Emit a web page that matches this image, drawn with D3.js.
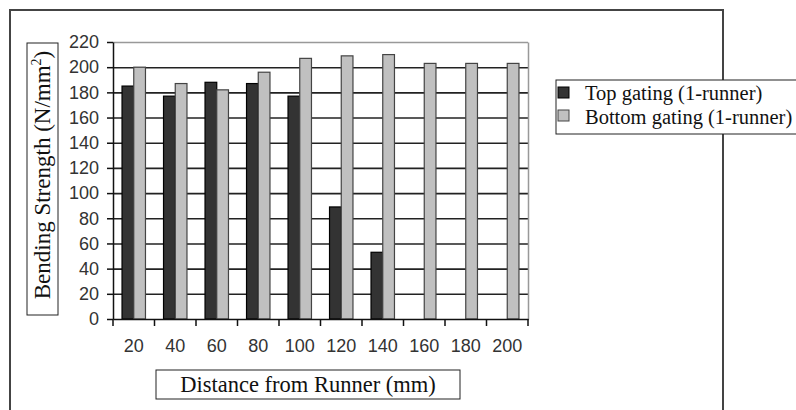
<!DOCTYPE html>
<html>
  <head>
    <meta charset="utf-8">
    <title>Bending strength</title>
    <script src="https://d3js.org/d3.v7.min.js"></script>
  </head>
  <body style="margin:0">
    <script>
      // data
      const distances = ["20", "40", "60", "80", "100", "120", "140", "160", "180", "200"];
      const seriesNames = ["Top gating (1-runner)", "Bottom gating (1-runner)"];
      const topGating = [185, 177, 188, 187, 177, 89, 53, null, null, null];
      const bottomGating = [200, 187, 182, 196, 207, 209, 210, 203, 203, 203];
      const yTicks = [0, 20, 40, 60, 80, 100, 120, 140, 160, 180, 200, 220];
      const fills = ["#333333", "#c0c0c0"];
      const strokes = ["#000000", "#444444"];

      const plot = { left: 113, right: 528, top: 42, bottom: 319 };
      const serif = "Liberation Serif";
      const sans = "Liberation Sans";

      const svg = d3.select("body").append("svg")
        .attr("width", 796)
        .attr("height", 410);

      // outer chart frame
      svg.append("rect")
        .attr("x", 10).attr("y", 10)
        .attr("width", 713).attr("height", 420)
        .attr("fill", "none")
        .attr("stroke", "#444")
        .attr("stroke-width", 2);

      const x = d3.scaleBand()
        .domain(distances)
        .range([plot.left, plot.right]);
      const xInner = d3.scaleBand()
        .domain([0, 1])
        .range([0, x.bandwidth()])
        .paddingOuter(0.77);
      const y = d3.scaleLinear()
        .domain([0, 220])
        .range([plot.bottom, plot.top]);

      // gridlines via an axis with ticks across the plot
      const grid = svg.append("g")
        .attr("transform", "translate(" + plot.left + ",0)")
        .call(d3.axisLeft(y)
          .tickValues(yTicks.filter(d => d > 0))
          .tickSize(-(plot.right - plot.left))
          .tickFormat(""));
      grid.select(".domain").remove();
      grid.selectAll(".tick line")
        .attr("stroke", d => d === 220 ? "#999" : "#222")
        .attr("stroke-width", 1.6);

      // right border of the plot area
      svg.append("g")
        .attr("transform", "translate(" + plot.right + ",0)")
        .call(d3.axisRight(y).tickValues([]).tickSizeOuter(0))
        .select(".domain")
          .attr("stroke", "#999")
          .attr("stroke-width", 1.5);

      // bars
      [topGating, bottomGating].forEach(function(vals, i) {
        svg.selectAll(".bar" + i)
          .data(distances.map((d, j) => ({ d: d, v: vals[j] })).filter(e => e.v != null))
          .join("rect")
            .attr("class", "bar" + i)
            .attr("x", e => x(e.d) + xInner(i))
            .attr("y", e => y(e.v))
            .attr("width", xInner.bandwidth())
            .attr("height", e => plot.bottom - y(e.v))
            .attr("fill", fills[i])
            .attr("stroke", strokes[i])
            .attr("stroke-width", 1.2);
      });

      // axes
      const yAxis = svg.append("g")
        .attr("transform", "translate(" + plot.left + ",0)")
        .call(d3.axisLeft(y).tickValues(yTicks).tickSize(6).tickPadding(8).tickSizeOuter(0));
      const xAxis = svg.append("g")
        .attr("transform", "translate(0," + plot.bottom + ")")
        .call(d3.axisBottom(x).tickSize(0).tickPadding(20));
      [yAxis, xAxis].forEach(function(a) {
        a.select(".domain").attr("stroke", "#111").attr("stroke-width", 1.5);
        a.selectAll(".tick line").attr("stroke", "#111").attr("stroke-width", 1.5);
        a.selectAll(".tick text")
          .attr("font-family", sans)
          .attr("font-size", 18)
          .attr("fill", "#333");
      });
      // x ticks sit on category boundaries
      svg.selectAll(".xtick")
        .data(distances.map(d => x(d)).concat([plot.right]))
        .join("rect")
          .attr("class", "xtick")
          .attr("x", d => d - 0.75)
          .attr("y", plot.bottom)
          .attr("width", 1.5)
          .attr("height", 7)
          .attr("fill", "#111");

      // y axis title
      svg.append("rect")
        .attr("x", 27).attr("y", 43)
        .attr("width", 31).attr("height", 272)
        .attr("fill", "#fff").attr("stroke", "#222").attr("stroke-width", 1);
      const yTitle = svg.append("text")
        .attr("transform", "translate(50,175) rotate(-90)")
        .attr("text-anchor", "middle")
        .attr("font-family", serif)
        .attr("font-size", 23)
        .attr("fill", "#111");
      yTitle.append("tspan").text("Bending Strength (N/mm");
      yTitle.append("tspan").attr("dy", -9).attr("font-size", 14).text("2");
      yTitle.append("tspan").attr("dy", 9).text(")");

      // x axis title
      svg.append("rect")
        .attr("x", 156).attr("y", 370)
        .attr("width", 304).attr("height", 29)
        .attr("fill", "#fff").attr("stroke", "#222").attr("stroke-width", 1);
      svg.append("text")
        .attr("x", 308).attr("y", 392)
        .attr("text-anchor", "middle")
        .attr("font-family", serif)
        .attr("font-size", 22.5)
        .attr("fill", "#111")
        .text("Distance from Runner (mm)");

      // legend
      svg.append("rect")
        .attr("x", 556).attr("y", 80)
        .attr("width", 260).attr("height", 54)
        .attr("fill", "#fff").attr("stroke", "#222").attr("stroke-width", 1);
      seriesNames.forEach(function(name, i) {
        svg.append("rect")
          .attr("x", 558).attr("y", 87 + i * 23)
          .attr("width", 11).attr("height", 11)
          .attr("fill", fills[i])
          .attr("stroke", strokes[i]);
        svg.append("text")
          .attr("x", 585).attr("y", 100 + i * 24)
          .attr("font-family", serif)
          .attr("font-size", 20.5)
          .attr("fill", "#111")
          .text(name);
      });
    </script>
  </body>
</html>
